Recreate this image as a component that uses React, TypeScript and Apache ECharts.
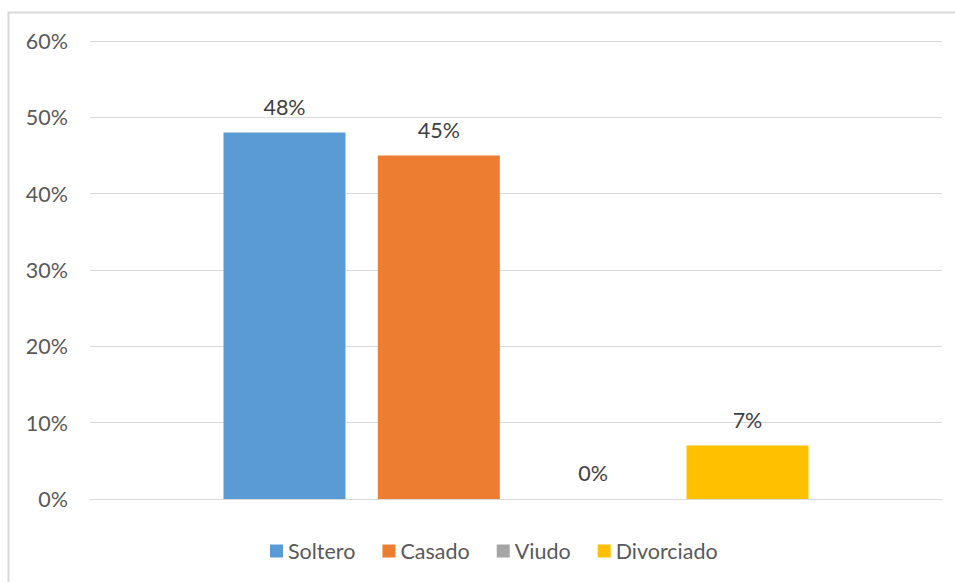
import React, { useEffect, useRef } from "react";
import * as echarts from "echarts";

const categories = [""];
const seriesNames = ["Soltero", "Casado", "Viudo", "Divorciado"];
const seriesValues = [48, 45, 0, 7];
const seriesColors = ["#5b9bd5", "#ed7d31", "#a5a5a5", "#ffc000"];
const yTicks = { min: 0, max: 60, interval: 10 };

export default function App() {
  const ref = useRef<HTMLDivElement>(null);
  useEffect(() => {
    if (!ref.current) return;
    const chart = echarts.init(ref.current, undefined, { renderer: "svg" });
    const font = "Lato, 'Open Sans', sans-serif";
    const fs = 21.5;
    chart.setOption({
      animation: false,
      backgroundColor: "#ffffff",
      textStyle: { fontFamily: font },
      graphic: [
        {
          type: "rect",
          shape: { x: 8.5, y: 12.5, width: 980, height: 620 },
          style: { fill: "none", stroke: "#d9d9d9", lineWidth: 2 },
          silent: true,
          z: -1,
        },
      ],
      grid: { left: 90, right: 13, top: 41, bottom: 83, containLabel: false },
      legend: {
        data: seriesNames,
        top: 535,
        left: 265,
        itemWidth: 13,
        itemHeight: 13,
        itemGap: 27,
        icon: "rect",
        textStyle: { fontSize: fs, color: "#595959", fontFamily: font },
      },
      xAxis: {
        type: "category",
        data: categories,
        axisLine: { show: true, lineStyle: { color: "#d9d9d9", width: 1 } },
        axisTick: { show: false },
        axisLabel: { show: false },
      },
      yAxis: {
        type: "value",
        min: yTicks.min,
        max: yTicks.max,
        interval: yTicks.interval,
        axisLine: { show: false },
        axisTick: { show: false },
        splitLine: { lineStyle: { color: "#d9d9d9", width: 1 } },
        axisLabel: {
          formatter: "{value}%",
          fontSize: fs,
          color: "#595959",
          margin: 22,
          fontFamily: font,
        },
      },
      series: seriesNames.map((name, i) => ({
        name,
        type: "bar",
        data: [seriesValues[i]],
        barWidth: 122,
        barGap: "26.5%",
        itemStyle: { color: seriesColors[i] },
        label: {
          show: true,
          position: "top",
          distance: 15,
          formatter: "{c}%",
          fontSize: fs,
          color: "#404040",
          fontFamily: font,
        },
      })),
    });
    return () => chart.dispose();
  }, []);
  return (
    <div
      ref={ref}
      style={{ position: "absolute", left: 0, top: 0, width: 955, height: 582 }}
    />
  );
}
